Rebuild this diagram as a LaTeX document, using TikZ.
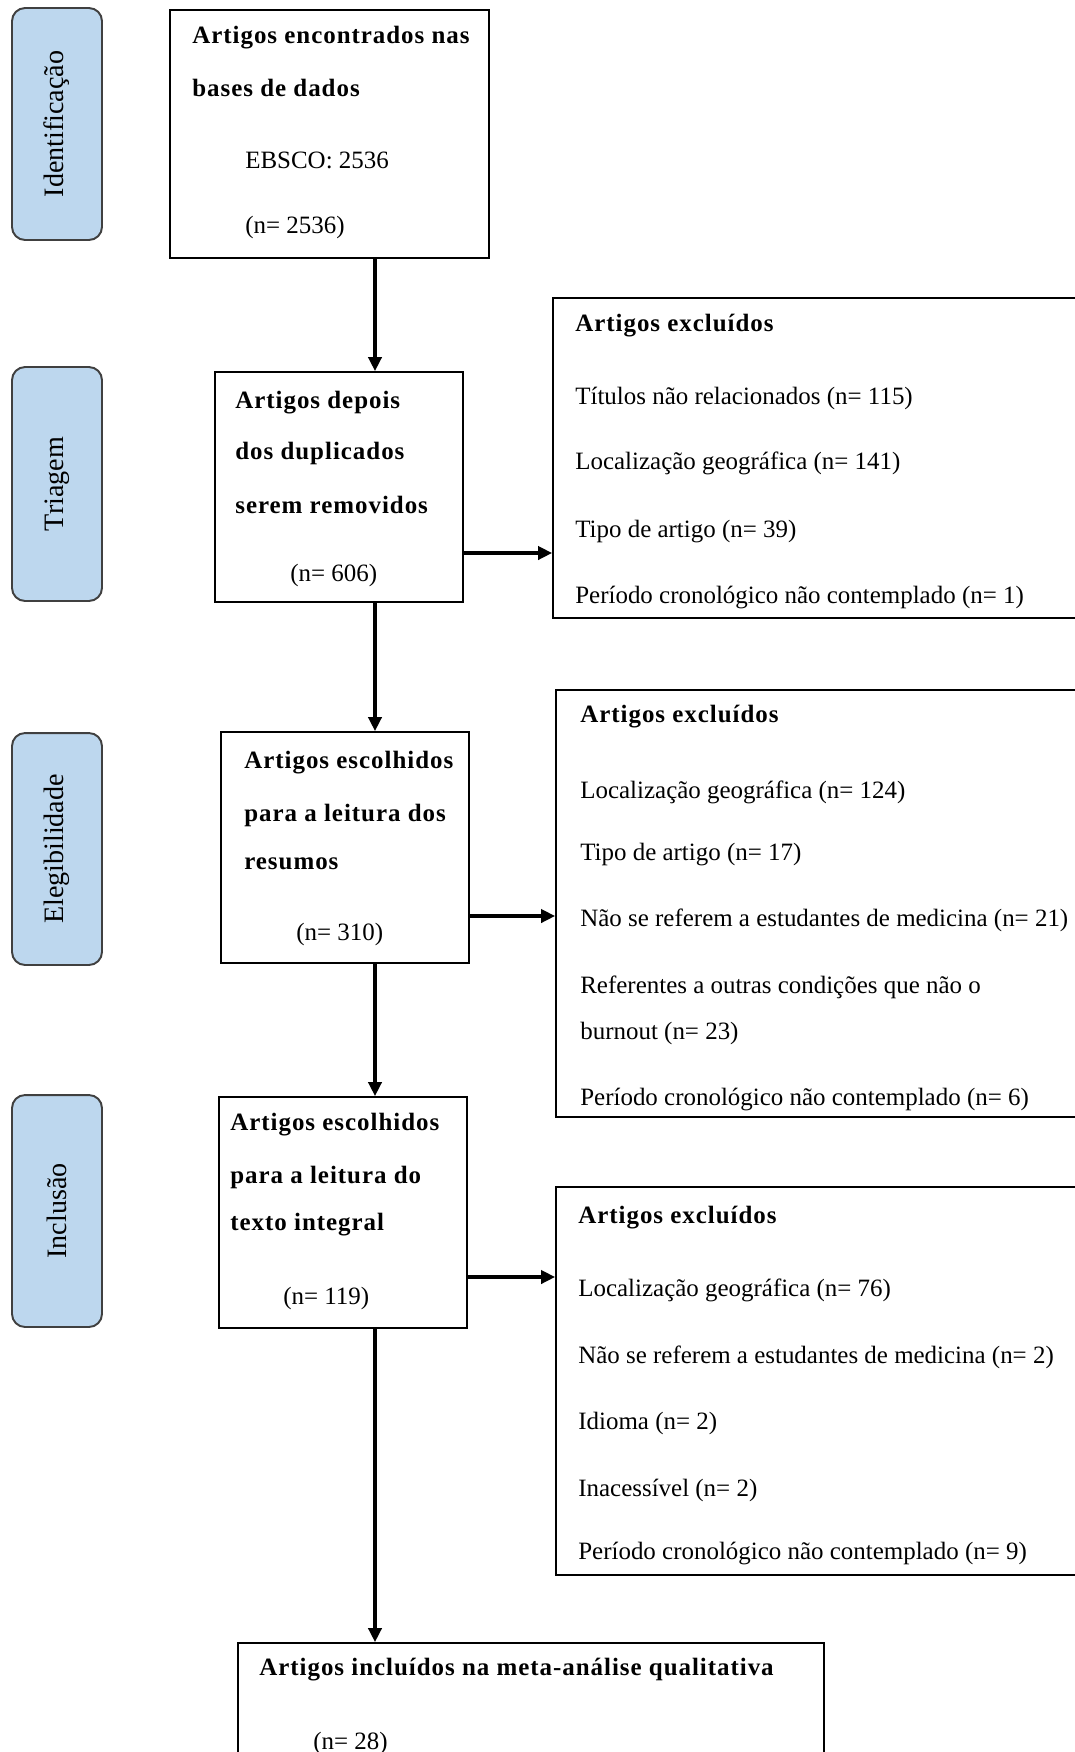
\documentclass[tikz,border=0pt]{standalone}
\usepackage{fontspec}
\setmainfont{Liberation Serif}
\newfontfamily\hdfont{Liberation Serif}[LetterSpace=3.9]
\usepackage{tikz}
\usetikzlibrary{arrows.meta,fit}

\definecolor{phaseblue}{RGB}{189,215,238}
\definecolor{phaseline}{RGB}{64,64,64}

\tikzset{
  box/.style={draw=black, line width=1pt, inner sep=0pt},
  phase/.style={draw=phaseline, line width=1.1pt, fill=phaseblue, rounded corners=0.26cm,
    rotate=90, minimum width=4.64cm, minimum height=1.8cm,
    font=\fontsize{16}{18}\selectfont},
  txt/.style={anchor=west, inner sep=0pt, font=\fontsize{14.2}{16}\selectfont},
  hd/.style={txt, font=\fontsize{14.2}{16}\hdfont\bfseries},
  arr/.style={-{Triangle[length=8pt,width=7.5pt]}, line width=1.9pt}
}

\begin{document}
\begin{tikzpicture}[x=0.02cm, y=-0.02cm]
            \useasboundingbox (0,0) rectangle (1075,1752);
            \clip (0,0) rectangle (1075,1752);

            % phases
            \node [phase] (p1) at (57,124) {Identificação};
            \node [phase, minimum width=4.68cm] (p2) at (57,484) {Triagem};
            \node [phase] (p3) at (57,849) {Elegibilidade};
            \node [phase] (p4) at (57,1211) {Inclusão};

            % main column
            \node [box, fit={(170,10) (489,258)}] (b1) {};
            \node [box, fit={(215,372) (463,602)}] (b2) {};
            \node [box, fit={(221,732) (469,963)}] (b3) {};
            \node [box, fit={(219,1097) (467,1328)}] (b4) {};
            \node [box, fit={(238,1643) (824,1800)}] (b5) {};

            % excluded
            \node [box, fit={(553,298) (1100,618)}] (x1) {};
            \node [box, fit={(556,690) (1100,1117)}] (x2) {};
            \node [box, fit={(556,1187) (1100,1575)}] (x3) {};

            % label b1
            \node [hd] (b1a) at (192,38) {Artigos encontrados nas};
            \node [hd] (b1b) at (192,88) {bases de dados};
            \node [txt] (b1c) at (245,160) {EBSCO: 2536};
            \node [txt] (b1n) at (245,227) {(n= 2536)};
            % label b2
            \node [hd] (b2a) at (235,403) {Artigos depois};
            \node [hd] (b2b) at (235,453) {dos duplicados};
            \node [hd] (b2c) at (235,505) {serem removidos};
            \node [txt] (b2n) at (290,575) {(n= 606)};
            % label b3
            \node [hd] (b3a) at (244,763) {Artigos escolhidos};
            \node [hd] (b3b) at (244,815) {para a leitura dos};
            \node [hd] (b3c) at (244,864) {resumos};
            \node [txt] (b3n) at (296,934) {(n= 310)};
            % label b4
            \node [hd] (b4a) at (230,1125) {Artigos escolhidos};
            \node [hd] (b4b) at (230,1177) {para a leitura do};
            \node [hd] (b4c) at (230,1225) {texto integral};
            \node [txt] (b4n) at (283,1298) {(n= 119)};
            % label b5
            \node [hd] (b5a) at (259,1670) {Artigos incluídos na meta-análise qualitativa};
            \node [txt] (b5n) at (313,1743) {(n= 28)};

            % label x1
            \node [hd] (x1a) at (575,326) {Artigos excluídos};
            \node [txt] (x1b) at (575,398) {Títulos não relacionados (n= 115)};
            \node [txt] (x1c) at (575,463) {Localização geográfica (n= 141)};
            \node [txt] (x1d) at (575,532) {Tipo de artigo (n= 39)};
            \node [txt] (x1e) at (575,598) {Período cronológico não contemplado (n= 1)};
            % label x2
            \node [hd] (x2a) at (580,717) {Artigos excluídos};
            \node [txt] (x2b) at (580,792) {Localização geográfica (n= 124)};
            \node [txt] (x2c) at (580,855) {Tipo de artigo (n= 17)};
            \node [txt] (x2d) at (580,920) {Não se referem a estudantes de medicina (n= 21)};
            \node [txt] (x2e) at (580,987) {Referentes a outras condições que não o};
            \node [txt] (x2f) at (580,1033) {burnout (n= 23)};
            \node [txt] (x2g) at (580,1100) {Período cronológico não contemplado (n= 6)};
            % label x3
            \node [hd] (x3a) at (578,1218) {Artigos excluídos};
            \node [txt] (x3b) at (578,1290) {Localização geográfica (n= 76)};
            \node [txt] (x3c) at (578,1357) {Não se referem a estudantes de medicina (n= 2)};
            \node [txt] (x3d) at (578,1423) {Idioma (n= 2)};
            \node [txt] (x3e) at (578,1490) {Inacessível (n= 2)};
            \node [txt] (x3f) at (578,1553) {Período cronológico não contemplado (n= 9)};

            % |
            \coordinate (spine) at (375,0);
            \draw [arr] (b1.south -| spine) -- (b2.north -| spine);
            \draw [arr] (b2.south -| spine) -- (b3.north -| spine);
            \draw [arr] (b3.south -| spine) -- (b4.north -| spine);
            \draw [arr] (b4.south -| spine) -- (b5.north -| spine);

            % ->
            \coordinate (h1) at (0,553);
            \coordinate (h2) at (0,916);
            \coordinate (h3) at (0,1277);
            \draw [arr] (b2.east |- h1) -- (x1.west |- h1);
            \draw [arr] (b3.east |- h2) -- (x2.west |- h2);
            \draw [arr] (b4.east |- h3) -- (x3.west |- h3);
\end{tikzpicture}
\end{document}
